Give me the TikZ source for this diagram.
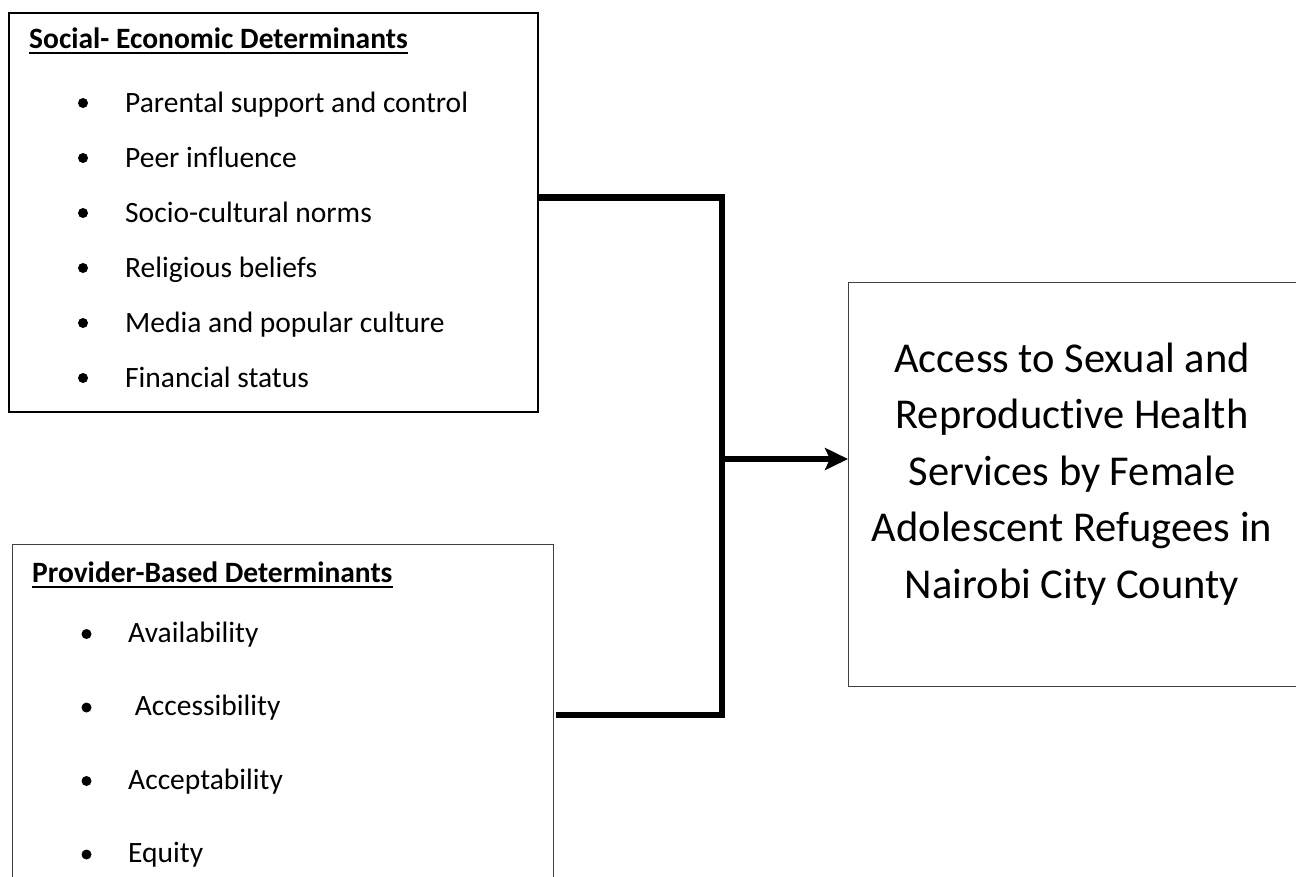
\documentclass[tikz,border=0pt]{standalone}
\usepackage{fontspec}
\setmainfont{Carlito}[Ligatures=NoCommon]
\usetikzlibrary{arrows.meta}

\tikzset{
	frame/.style={draw, inner sep=0pt, anchor=north west},
	heading/.style={anchor=base west, inner sep=0pt, font=\fontsize{29.5}{35}\selectfont\bfseries},
	item/.style={anchor=base west, inner sep=0pt, font=\fontsize{29.5}{35}\selectfont},
	dot/.style={circle, fill=black, inner sep=0pt, minimum size=10pt},
	link/.style={line width=6.5pt, line join=miter},
}

\begin{document}
\begin{tikzpicture}[x=1pt, y=-1pt]
			%%%%% START %%%%%
			\useasboundingbox (0, 0) rectangle (1296, 876);
			\clip (0, 0) rectangle (1296, 876);
			
			% left boxes
			\node[frame, line width=2.2pt, minimum width=529pt, minimum height=399pt] (social) at (8, 12) {};
			\node[frame, line width=1.2pt, draw=black!75, minimum width=541pt, minimum height=360pt] (provider) at (12, 544) {};
			
			\node[heading] (sochead) at (29, 48) {Social- Economic Determinants};
			\draw[line width=2pt] ([yshift=-5pt]sochead.base west) -- ([yshift=-5pt]sochead.base east);
			\foreach \txt [count=\i] in {Parental support and control, Peer influence, Socio-cultural norms, Religious beliefs, Media and popular culture, Financial status}
			{
				\node[dot] (sb\i) at (83, {112 + 55*(\i-1) - 9}) {};
				\node[item] (s\i) at (125, {112 + 55*(\i-1)}) {\txt};
			}
			
			\node[heading] (provhead) at (32, 582) {Provider-Based Determinants};
			\draw[line width=2pt] ([yshift=-5pt]provhead.base west) -- ([yshift=-5pt]provhead.base east);
			\foreach \txt [count=\i] in {Availability, \ Accessibility, Acceptability, Equity}
			{
				\node[dot] (pb\i) at (86.5, {642 + 73.5*(\i-1) - 8}) {};
				\node[item] (p\i) at (128, {642 + 73.5*(\i-1)}) {\txt};
			}
			
			% outcome box
			\node[frame, line width=1.2pt, draw=black!75, minimum width=448pt, minimum height=404pt] (access) at (848, 282) {};
			\node[align=center, inner sep=0pt, font=\fontsize{42.5}{56.5}\selectfont] (acctxt) at (1072, 474)
				{Access to Sexual and\\Reproductive Health\\Services by Female\\Adolescent Refugees in\\Nairobi City County};
			
			% connectors
			\coordinate (tj) at (722, 197.5);
			\coordinate (mj) at (722, 459);
			\coordinate (bj) at (722, 715);
			\draw[link] (tj -| social.east) -- (tj) -- (bj) -- ([xshift=2pt]bj -| provider.east);
			\draw[link, -{Stealth[length=23pt, width=22pt, inset=5pt]}] (mj) -- (mj -| access.west);
			%%%%% END %%%%%
\end{tikzpicture}
\end{document}
